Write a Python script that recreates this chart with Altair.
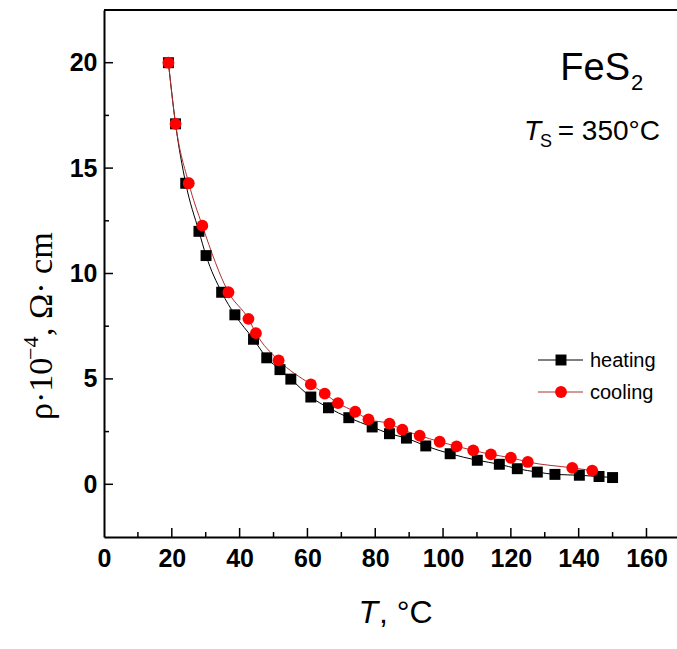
import altair as alt
import pandas as pd

# ---- data ----
heat_T = [19.0, 21.1, 24.1, 28.0, 30.1, 34.7, 38.6, 44.1, 48.0, 51.9, 55.1, 61.0, 66.2, 72.2,
          79.1, 84.2, 89.2, 94.9, 102.1, 110.1, 116.6, 121.9, 127.8, 133.0, 140.2, 146.0, 150.0]
heat_rho = [20.0, 17.1, 14.28, 12.0, 10.85, 9.11, 8.04, 6.88, 6.0, 5.44, 4.99, 4.14, 3.63, 3.16,
            2.72, 2.40, 2.19, 1.82, 1.45, 1.14, 0.95, 0.74, 0.58, 0.47, 0.43, 0.37, 0.32]

cool_T = [19.0, 21.1, 25.0, 29.0, 36.7, 42.6, 44.8, 51.5, 61.0, 65.1, 69.0, 74.1, 78.0, 84.2,
          88.0, 93.1, 99.0, 104.0, 108.9, 114.1, 120.0, 125.0, 138.1, 144.0]
cool_rho = [20.0, 17.1, 14.28, 12.27, 9.11, 7.85, 7.17, 5.88, 4.74, 4.30, 3.85, 3.44, 3.08, 2.88,
            2.59, 2.31, 2.02, 1.80, 1.61, 1.42, 1.26, 1.06, 0.78, 0.65]

x_major = [20, 40, 60, 80, 100, 120, 140, 160]
x_minor = [10, 30, 50, 70, 90, 110, 130, 150]
x_labels = [0, 20, 40, 60, 80, 100, 120, 140, 160]
y_major = [0, 5, 10, 15, 20]
y_minor = [2.5, 7.5, 12.5, 17.5]

# ---- layout ----
W, H = 573, 527
SANS = "Liberation Sans"
SERIF = "Liberation Serif"

xscale = alt.Scale(domain=[0, 169], nice=False, zero=False)
yscale = alt.Scale(domain=[-2.5, 22.5], nice=False, zero=False)

xaxis = alt.Axis(values=x_labels, ticks=False, grid=False, domain=True, title=None,
                 labelFlush=False, labelOverlap=False, labelPadding=9)
yaxis = alt.Axis(values=y_major, ticks=False, grid=False, domain=True, title=None,
                 labelOverlap=False, labelPadding=7)

heat = pd.DataFrame({"T": heat_T, "rho": heat_rho})
cool = pd.DataFrame({"T": cool_T, "rho": cool_rho})

X = alt.X("T:Q", scale=xscale, axis=xaxis)
Y = alt.Y("rho:Q", scale=yscale, axis=yaxis)

heat_line = alt.Chart(heat).mark_line(color="black", strokeWidth=1, interpolate="monotone").encode(x=X, y=Y)
cool_line = alt.Chart(cool).mark_line(color="#b03030", strokeWidth=1, interpolate="monotone").encode(x=X, y=Y)
heat_pts = alt.Chart(heat).mark_point(shape="square", filled=True, size=120, color="black", opacity=1).encode(x=X, y=Y)
cool_pts = alt.Chart(cool).mark_point(shape="circle", filled=True, size=140, color="#ff0000", opacity=1).encode(x=X, y=Y)

# inward ticks
def yticks(vals, length):
    return alt.Chart(pd.DataFrame({"rho": vals})).mark_rule(color="black", strokeWidth=1.5).encode(
        y=Y, x=alt.value(0), x2=alt.value(length))

def xticks(vals, length):
    return alt.Chart(pd.DataFrame({"T": vals})).mark_rule(color="black", strokeWidth=1.5).encode(
        x=X, y=alt.value(H), y2=alt.value(H - length))

top_border = alt.Chart(alt.Data(values=[{}])).mark_rule(color="black", strokeWidth=2).encode(
    x=alt.value(0), x2=alt.value(W), y=alt.value(0))

def label(txt, x, y, size, font=SANS, style="normal", weight="normal", align="left", angle=0):
    return alt.Chart(alt.Data(values=[{}])).mark_text(
        text=txt, font=font, fontSize=size, fontStyle=style, fontWeight=weight,
        align=align, baseline="alphabetic", angle=angle, color="black").encode(
        x=alt.value(x), y=alt.value(y))

# legend (manual)
def leg_rule(y, color):
    return alt.Chart(alt.Data(values=[{}])).mark_rule(color=color, strokeWidth=1).encode(
        x=alt.value(434), x2=alt.value(479), y=alt.value(y))

def leg_pt(y, shape, color, size):
    return alt.Chart(alt.Data(values=[{}])).mark_point(shape=shape, filled=True, size=size,
                                                     color=color, opacity=1).encode(
        x=alt.value(457), y=alt.value(y))

legend = [
    leg_rule(350, "black"), leg_pt(350, "square", "black", 120),
    label("heating", 486, 357, 20),
    leg_rule(382, "#b03030"), leg_pt(382, "circle", "#ff0000", 140),
    label("cooling", 486, 389, 20),
]

annotations = [
    label("FeS", 526, 70, 38, align="right"),
    label("2", 527, 80, 22),
    label("= 350°C", 556, 130, 28, align="right"),
    label("S", 448, 137, 18, align="right"),
    label("T", 437, 130, 28, style="italic", align="right"),
    # x title
    label("T", 274, 613, 32, style="italic", align="right"),
    label(", °C", 275, 613, 32),
    # y title (rotated)
    label("ρ·10", -52, 410, 34, font=SERIF, angle=270),
    label("−4", -66, 350, 22, font=SERIF, angle=270),
    label(", Ω· cm", -52, 326, 34, font=SERIF, angle=270),
]

chart = alt.layer(
    heat_line, cool_line, heat_pts, cool_pts,
    yticks(y_major, 9), yticks(y_minor, 5), xticks(x_major, 9), xticks(x_minor, 5),
    top_border, *legend, *annotations,
).properties(
    width=W, height=H,
    background="white",
    autosize=alt.AutoSizeParams(type="none"),
    padding={"left": 104, "top": 10, "right": 0, "bottom": 649 - 10 - H},
).configure_view(stroke=None).configure_axis(
    domainWidth=2, domainColor="black", labelFont=SANS, labelFontSize=25,
    labelFontWeight="bold", labelColor="black",
)

chart.save("out.html", embed_options={"renderer": "svg", "actions": False})
